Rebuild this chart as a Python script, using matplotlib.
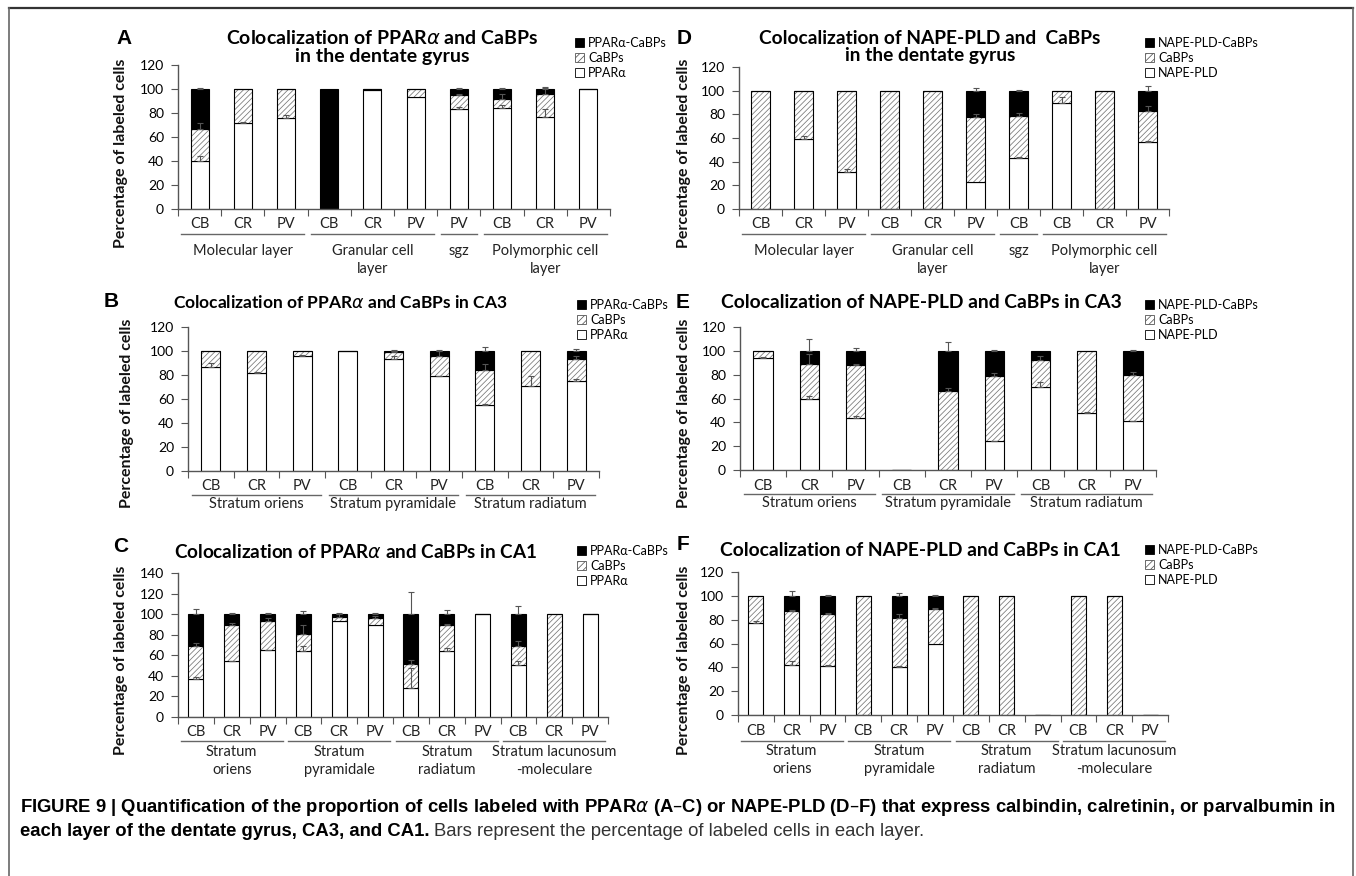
"""Figure 9: colocalization of PPARa / NAPE-PLD with calcium binding proteins."""

import matplotlib
matplotlib.use("Agg")
import matplotlib.pyplot as plt
import matplotlib.transforms as mtrans
from matplotlib.lines import Line2D
from matplotlib.patches import Patch
import numpy as np

W, H, DPI = 1356, 876, 100

plt.rcParams["font.family"] = ["Lato", "DejaVu Sans"]
plt.rcParams["mathtext.fontset"] = "dejavusans"
plt.rcParams["hatch.linewidth"] = 0.55

# ---------------- data ----------------
DG_GROUPS = ["Molecular layer", "Granular cell\nlayer", "sgz", "Polymorphic cell\nlayer"]
DG_SIZES = [3, 3, 1, 3]
CA3_GROUPS = ["Stratum oriens", "Stratum pyramidale", "Stratum radiatum"]
CA3_SIZES = [3, 3, 3]
CA1_GROUPS = ["Stratum\noriens", "Stratum\npyramidale", "Stratum\nradiatum",
              "Stratum lacunosum\n-moleculare"]
CA1_SIZES = [3, 3, 3, 3]

PPAR_LABELS = ["PPARα-CaBPs", "CaBPs", "PPARα"]
NAPE_LABELS = ["NAPE-PLD-CaBPs", "CaBPs", "NAPE-PLD"]

# A - PPARa, dentate gyrus
A_cats = ["CB", "CR", "PV", "CB", "CR", "PV", "PV", "CB", "CR", "PV"]
A_single = [40, 72, 76, 0, 99, 93, 83, 84, 77, 100]
A_cabp = [27, 28, 24, 0, 1, 7, 12, 8, 19, 0]
A_both = [33, 0, 0, 100, 0, 0, 5, 8, 4, 0]
A_single_err = [4, 0.5, 2, 0, 0, 0, 2, 3, 6, 0]
A_cabp_err = [5, 0, 0, 0, 0, 0, 1, 4, 5, 0]
A_both_err = [1, 0, 0, 0, 0, 0, 1, 0.5, 2, 0]

# D - NAPE-PLD, dentate gyrus
D_cats = ["CB", "CR", "PV", "CB", "CR", "PV", "CB", "CB", "CR", "PV"]
D_single = [0, 59, 31, 0, 0, 23, 43, 90, 0, 57]
D_cabp = [100, 41, 69, 100, 100, 55, 36, 10, 100, 26]
D_both = [0, 0, 0, 0, 0, 22, 21, 0, 0, 17]
D_single_err = [0, 3, 3, 0, 0, 0, 1, 5, 0, 0.5]
D_cabp_err = [0, 0, 0, 0, 0, 2, 2, 0, 0, 4]
D_both_err = [0, 0, 0, 0, 0, 2, 0.5, 0, 0, 4]

# B - PPARa, CA3
B_cats = ["CB", "CR", "PV"] * 3
B_single = [87, 82, 96, 100, 93, 79, 55, 71, 75]
B_cabp = [13, 18, 4, 0, 6, 17, 29, 29, 18]
B_both = [0, 0, 0, 0, 1, 4, 16, 0, 7]
B_single_err = [3, 0.5, 0.5, 0, 3, 0.5, 0.5, 8, 2]
B_cabp_err = [0, 0, 0, 0, 1, 4, 5, 0, 3]
B_both_err = [0, 0, 0, 0, 0.5, 1, 3, 0, 2]

# E - NAPE-PLD, CA3
E_cats = ["CB", "CR", "PV"] * 3
E_single = [94, 60, 44, 0, 0, 24, 70, 48, 41]
E_cabp = [6, 29, 44, 0, 66, 55, 22, 52, 39]
E_both = [0, 11, 12, 0, 34, 21, 8, 0, 20]
E_single_err = [1, 2, 1, 0, 0, 0.5, 4, 0.5, 0.5]
E_cabp_err = [0, 8, 1, 0, 3, 2, 4, 0, 2]
E_both_err = [0, 10, 2, 0, 7, 0.5, 0, 0, 0.5]

# C - PPARa, CA1
C_cats = ["CB", "CR", "PV"] * 4
C_single = [37, 54, 65, 64, 93, 89, 28, 64, 100, 51, 0, 100]
C_cabp = [32, 35, 28, 17, 4, 7, 24, 25, 0, 18, 100, 0]
C_both = [31, 11, 7, 19, 3, 4, 48, 11, 0, 31, 0, 0]
C_single_err = [2, 0.5, 0.5, 5, 0, 0, 20, 3, 0, 3, 0, 0]
C_cabp_err = [3, 2, 3, 8, 3, 2, 3, 1, 0, 5, 0, 0]
C_both_err = [5, 1, 1, 3, 1, 1, 22, 4, 0, 8, 0, 0]

# F - NAPE-PLD, CA1
F_cats = ["CB", "CR", "PV"] * 4
F_single = [77, 42, 41, 0, 40, 60, 0, 0, 0, 0, 0, 0]
F_cabp = [23, 45, 44, 100, 41, 29, 100, 100, 0, 100, 100, 0]
F_both = [0, 13, 15, 0, 19, 11, 0, 0, 0, 0, 0, 0]
F_single_err = [2, 3, 1, 0, 1.5, 0, 0, 0, 0, 0, 0, 0]
F_cabp_err = [0, 1, 1, 0, 4, 0.5, 0, 0, 0, 0, 0, 0]
F_both_err = [0, 4, 1, 0, 2, 0.5, 0, 0, 0, 0, 0, 0]

TITLE_A = "Colocalization of PPAR$\\alpha$ and CaBPs\nin the dentate gyrus"
TITLE_D = "Colocalization of NAPE-PLD and  CaBPs\nin the dentate gyrus"
TITLE_B = "Colocalization of PPAR$\\alpha$ and CaBPs in CA3"
TITLE_E = "Colocalization of NAPE-PLD and CaBPs in CA3"
TITLE_C = "Colocalization of PPAR$\\alpha$ and CaBPs in CA1"
TITLE_F = "Colocalization of NAPE-PLD and CaBPs in CA1"

fig = plt.figure(figsize=(W / DPI, H / DPI), dpi=DPI)
renderer = fig.canvas.get_renderer()


def fxy(x, y):
    return x / W, 1 - y / H


def fit(txt, target):
    w = txt.get_window_extent(renderer).width
    txt.set_fontsize(txt.get_fontsize() * target / w)


def below(ax, px):
    # x in data, y = px pixels below the category axis
    return (mtrans.blended_transform_factory(ax.transData, ax.transAxes)
            + mtrans.ScaledTranslation(0, -px / DPI, fig.dpi_scale_trans))


def panel(box, ymax, cats, groups, sizes, single, cabp, both, errs, offs):
    x0, x1, ytop, ybot = box
    ax = fig.add_axes([x0 / W, 1 - ybot / H, (x1 - x0) / W, (ybot - ytop) / H])
    n = len(cats)
    x = np.arange(n)
    single, cabp, both = map(np.asarray, (single, cabp, both))
    wd = 0.42

    ax.bar(x, single, wd, color="white", edgecolor="black", lw=0.8, zorder=2)
    ax.bar(x, cabp, wd, bottom=single, color="white", edgecolor="#777",
           hatch="//////", lw=0, zorder=2)
    ax.bar(x, cabp, wd, bottom=single, fill=False, edgecolor="black", lw=0.8, zorder=2.1)
    ax.bar(x, both, wd, bottom=single + cabp, color="black", edgecolor="black",
           lw=0.8, zorder=2.2)

    tops = [single, single + cabp, single + cabp + both]
    for top, err in zip(tops, errs):
        err = np.asarray(err, dtype=float)
        m = err > 0
        if m.any():
            ax.errorbar(x[m], top[m], yerr=[np.zeros(m.sum()), err[m]], fmt="none",
                        ecolor="#555", elinewidth=0.8, capsize=2, capthick=0.8, zorder=3)

    ax.set_xlim(-0.5, n - 0.5)
    ax.set_ylim(0, ymax)
    ax.set_yticks(np.arange(0, ymax + 1, 20))
    ax.spines[["top", "right"]].set_visible(False)
    for s in ("left", "bottom"):
        ax.spines[s].set_color("#555")
        ax.spines[s].set_linewidth(1)
    ax.set_xticks(np.arange(n + 1) - 0.5)
    ax.set_xticklabels([])
    ax.tick_params(axis="x", direction="out", length=5, color="#555")
    ax.tick_params(axis="y", direction="out", length=5, color="#555",
                   labelsize=10, pad=5)

    tick_off, line_off, label_off = offs
    for xi, c in zip(x, cats):
        ax.text(xi, 0, c, transform=below(ax, tick_off), ha="center", va="center",
                fontsize=10.5, color="#222")
    start = 0
    for g, k in zip(groups, sizes):
        a, b = start - 0.5, start + k - 0.5
        ax.plot([a + 0.08, b - 0.08], [0, 0], transform=below(ax, line_off),
                color="#666", lw=1, clip_on=False)
        ax.text((a + b) / 2, 0, g, transform=below(ax, label_off), ha="center",
                va="top", fontsize=10.5, linespacing=1.35, color="#222")
        start += k
    return ax


def decorate(letter, lxy, ylab_xy, title, txy, twidth, legend_xy, labels):
    fig.text(*fxy(*lxy), letter, fontsize=15, fontweight="bold",
             family=["Liberation Sans", "DejaVu Sans"], ha="center", va="center")
    fig.text(*fxy(*ylab_xy), "Percentage of labeled cells", rotation=90,
             fontsize=11.5, fontweight="bold", ha="center", va="center", color="#111")
    t = fig.text(*fxy(*txy), title, fontsize=14, fontweight="bold", ha="center",
                 va="center", multialignment="center", linespacing=1.05)
    fit(t, twidth)
    handles = [Patch(facecolor="black", edgecolor="black", lw=0.6),
               Patch(facecolor="white", edgecolor="#555", hatch="/////", lw=0.6),
               Patch(facecolor="white", edgecolor="black", lw=0.6)]
    fig.legend(handles, labels, loc="upper left", bbox_to_anchor=fxy(*legend_xy),
               frameon=False, fontsize=9, handlelength=0.75, handleheight=0.75,
               handletextpad=0.3, labelspacing=0.25, borderpad=0, borderaxespad=0)


# panel A
panel((178, 610, 65, 209), 120, A_cats, DG_GROUPS, DG_SIZES, A_single, A_cabp, A_both,
      [A_single_err, A_cabp_err, A_both_err], (15, 25, 35))
decorate("A", (124, 39), (121, 153), TITLE_A, (382, 47), 313, (575, 37), PPAR_LABELS)

# panel D
panel((739, 1169, 67, 209), 120, D_cats, DG_GROUPS, DG_SIZES, D_single, D_cabp, D_both,
      [D_single_err, D_cabp_err, D_both_err], (15, 25, 35))
decorate("D", (684, 39), (684, 153), TITLE_D, (930, 47), 345, (1145, 37), NAPE_LABELS)

# panel B
panel((188, 599, 327, 471), 120, B_cats, CA3_GROUPS, CA3_SIZES, B_single, B_cabp, B_both,
      [B_single_err, B_cabp_err, B_both_err], (15, 24, 26))
decorate("B", (111, 301), (127, 413), TITLE_B, (340, 303), 335, (577, 299), PPAR_LABELS)

# panel E
panel((740, 1156, 327, 470), 120, E_cats, CA3_GROUPS, CA3_SIZES, E_single, E_cabp, E_both,
      [E_single_err, E_cabp_err, E_both_err], (16, 24, 26))
decorate("E", (683, 303), (684, 413), TITLE_E, (921, 303), 404, (1145, 299), NAPE_LABELS)

# panel C
panel((178, 608, 573, 717), 140, C_cats, CA1_GROUPS, CA1_SIZES, C_single, C_cabp, C_both,
      [C_single_err, C_cabp_err, C_both_err], (15, 24, 28))
decorate("C", (121, 546), (121, 660), TITLE_C, (355, 552), 363, (577, 545), PPAR_LABELS)

# panel F
panel((738, 1168, 572, 715), 120, F_cats, CA1_GROUPS, CA1_SIZES, F_single, F_cabp, F_both,
      [F_single_err, F_cabp_err, F_both_err], (16, 26, 29))
decorate("F", (683, 545), (684, 660), TITLE_F, (920, 551), 405, (1145, 544), NAPE_LABELS)

# frame
fig.add_artist(Line2D([9 / W, 1353 / W], [1 - 8 / H] * 2, color="#333", lw=1.6))
for xx in (9, 1353):
    fig.add_artist(Line2D([xx / W] * 2, [1 - 8 / H, 0], color="#666", lw=1.2))

# caption
cap_font = ["Liberation Sans", "DejaVu Sans"]
c1 = fig.text(*fxy(20, 808),
              "FIGURE 9 | Quantification of the proportion of cells labeled with "
              "PPAR$\\alpha$ (A–C) or NAPE-PLD (D–F) that express calbindin, "
              "calretinin, or parvalbumin in",
              fontweight="bold", family=cap_font, fontsize=12, va="center")
fit(c1, 1316)
c2 = fig.text(*fxy(20, 831), "each layer of the dentate gyrus, CA3, and CA1.",
              fontweight="bold", family=cap_font, fontsize=c1.get_fontsize(), va="center")
x_end = c2.get_window_extent(renderer).x1
fig.text((x_end + 5) / W, 1 - 831 / H,
         "Bars represent the percentage of labeled cells in each layer.",
         family=cap_font, fontsize=c1.get_fontsize(), va="center", color="#333")

fig.savefig("out.png", dpi=DPI)
